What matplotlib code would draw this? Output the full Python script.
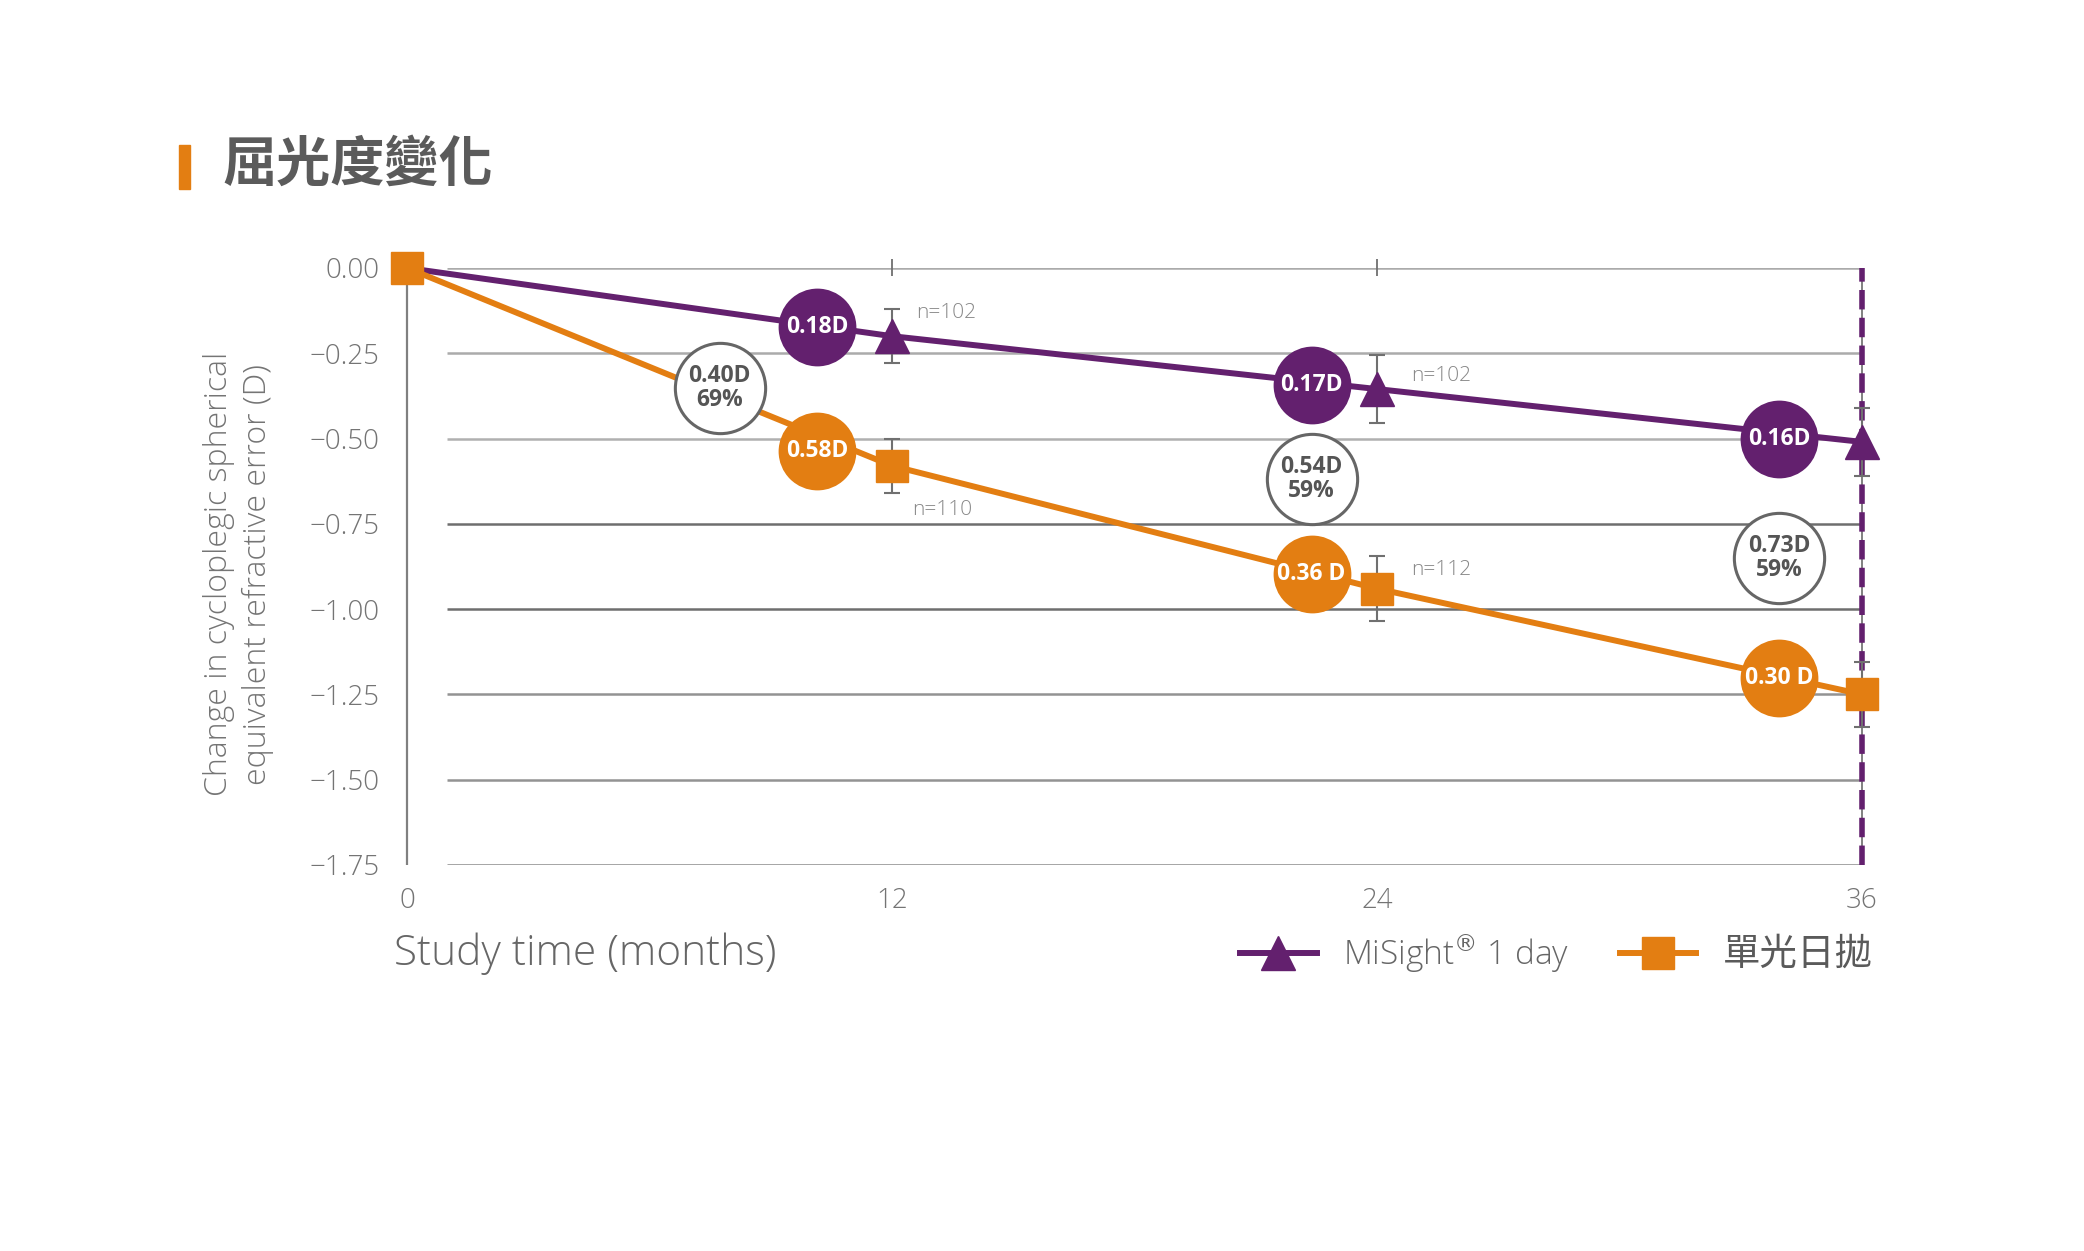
import matplotlib
matplotlib.use("Agg")
import matplotlib.pyplot as plt
from matplotlib.lines import Line2D
from matplotlib.patches import Rectangle

plt.rcParams['font.family'] = ['Open Sans', 'Noto Sans CJK TC', 'DejaVu Sans']

# ---------------- data ----------------
months = [0, 12, 24, 36]
misight = [0.0, -0.20, -0.355, -0.51]
misight_err = [0.0, 0.08, 0.10, 0.10]
single = [0.0, -0.58, -0.94, -1.25]
single_err = [0.0, 0.08, 0.095, 0.095]

n_labels = ["n=102", "n=110", "n=102", "n=112"]
n_x = [12.6, 12.5, 24.85, 24.85]
n_y = [-0.132, -0.71, -0.317, -0.886]

circle_x = [10.15, 22.38, 33.95]
misight_circle_y = [-0.173, -0.343, -0.50]
misight_circle_labels = ["0.18D", "0.17D", "0.16D"]
single_circle_y = [-0.536, -0.897, -1.203]
single_circle_labels = ["0.58D", "0.36 D", "0.30 D"]
diff_x = [7.74, 22.38, 33.95]
diff_y = [-0.352, -0.62, -0.85]
diff_labels = ["0.40D\n69%", "0.54D\n59%", "0.73D\n59%"]

yticks = [0.0, -0.25, -0.50, -0.75, -1.00, -1.25, -1.50, -1.75]
ytick_labels = ["0.00", "\u22120.25", "\u22120.50", "\u22120.75", "\u22121.00", "\u22121.25", "\u22121.50", "\u22121.75"]
grid_colors = ["#ababab", "#ababab", "#b0b0b0", "#6e6e6e", "#6e6e6e", "#939393", "#939393", "#8a8a8a"]
xticks = [0, 12, 24, 36]
xtick_labels = ["0", "12", "24", "36"]

title = "屈光度變化"
ylabel = "Change in cycloplegic spherical\nequivalent refractive error (D)"
xlabel = "Study time (months)"
legend_labels = ["MiSight$^{®}$ 1 day", "單光日拋"]

PURPLE = "#63206E"
ORANGE = "#E37E12"
GRAY_TXT = "#747474"

# ---------------- figure ----------------
fig = plt.figure(figsize=(20.84, 12.51), dpi=100)
ax = fig.add_axes([0.1953, 0.3086, 0.6982, 0.4772])
ax.set_xlim(0, 36)
ax.set_ylim(-1.75, 0)
for s in ax.spines.values():
    s.set_visible(False)

# gridlines
for yv, c in zip(yticks, grid_colors):
    ax.hlines(yv, 1, 36, colors=c, lw=1.8, zorder=1)
# left axis line
ax.vlines(0, -1.75, 0, colors="#808080", lw=1.6, zorder=1, clip_on=False)
# top ticks at 12, 24
ax.vlines([12, 24], -0.025, 0.025, colors="#707070", lw=1.3, zorder=1, clip_on=False)
# vertical line at 36
ax.vlines(36, -1.75, 0, colors="#808080", lw=1.4, zorder=1, clip_on=False)
ax.vlines(36, -1.75, 0, colors=PURPLE, lw=4, linestyles=(0, (3.5, 1.5)), zorder=2, clip_on=False)

# error bars
ax.errorbar(months[1:], misight[1:], yerr=misight_err[1:], fmt='none', ecolor="#707070",
            elinewidth=1.5, capsize=5.5, capthick=1.5, zorder=3, clip_on=False)
ax.errorbar(months[1:], single[1:], yerr=single_err[1:], fmt='none', ecolor="#707070",
            elinewidth=1.5, capsize=5.5, capthick=1.5, zorder=3, clip_on=False)

# lines
ax.plot(months, misight, color=PURPLE, lw=4.3, marker='^', ms=25, markevery=[1, 2, 3],
        zorder=4, clip_on=False)
ax.plot(months, single, color=ORANGE, lw=4.3, marker='s', ms=23.5, zorder=5, clip_on=False)

# filled circles
ax.scatter(circle_x, misight_circle_y, s=56**2, color=PURPLE, zorder=6, clip_on=False, linewidths=0)
ax.scatter(circle_x, single_circle_y, s=56**2, color=ORANGE, zorder=6, clip_on=False, linewidths=0)
for x, y, t in zip(circle_x, misight_circle_y, misight_circle_labels):
    ax.text(x, y, t, color="white", fontsize=16.5, fontweight="bold", ha="center", va="center", zorder=7)
for x, y, t in zip(circle_x, single_circle_y, single_circle_labels):
    ax.text(x, y, t, color="white", fontsize=16.5, fontweight="bold", ha="center", va="center", zorder=7)

# outline circles
ax.scatter(diff_x, diff_y, s=65**2, facecolor="white", edgecolor="#666666", linewidths=2.2,
           zorder=6, clip_on=False)
for x, y, t in zip(diff_x, diff_y, diff_labels):
    ax.text(x, y, t, color="#555555", fontsize=16.5, fontweight="bold", ha="center", va="center",
            linespacing=1.0, zorder=7)

# n labels
for x, y, t in zip(n_x, n_y, n_labels):
    ax.text(x, y, t, color="#888888", fontsize=15, fontweight="light", ha="left", va="center", zorder=7)

# ticks
ax.set_yticks(yticks, labels=ytick_labels)
ax.set_xticks(xticks, labels=xtick_labels)
ax.tick_params(axis='y', length=0, pad=20, labelsize=20, labelcolor=GRAY_TXT)
ax.tick_params(axis='x', length=0, pad=16, labelsize=20, labelcolor=GRAY_TXT)
for lbl in ax.get_yticklabels() + ax.get_xticklabels():
    lbl.set_fontweight('light')

ax.set_ylabel(ylabel, fontsize=23, color=GRAY_TXT, fontweight="light", linespacing=1.3,
              ha="center", va="center")
ax.yaxis.set_label_coords(-0.1157, 0.487)
ax.set_xlabel(xlabel, fontsize=30.5, color="#666666", fontweight="light", loc="left", va="center")
ax.xaxis.set_label_coords(-0.009, -0.148)

# legend
handles = [Line2D([], [], color=PURPLE, lw=4.3, marker='^', ms=25),
           Line2D([], [], color=ORANGE, lw=4.3, marker='s', ms=23.5)]
leg = fig.legend(handles, legend_labels, ncol=2, frameon=False, loc="center left",
                 bbox_to_anchor=(0.595, 0.238), borderpad=0, borderaxespad=0,
                 fontsize=24, handlelength=2.3, handletextpad=0.8, columnspacing=1.5)
for t in leg.get_texts():
    t.set_color("#666666")
    t.set_fontweight("light")
leg.get_texts()[1].set_fontsize(27)
leg.get_texts()[1].set_fontfamily(['Noto Sans CJK TC', 'DejaVu Sans'])
leg.get_texts()[1].set_fontweight("medium")
leg.get_texts()[1].set_color("#5a5a5a")

# title
fig.add_artist(Rectangle((179 / 2084, 1 - 189 / 1251), 11 / 2084, 44 / 1251,
                         transform=fig.transFigure, color=ORANGE))
fig.text(222 / 2084, 1 - 165 / 1251, title, fontsize=39, fontweight="bold",
         family=['Noto Sans CJK TC', 'DejaVu Sans'], color="#5b5b5b", va="center", ha="left")

fig.savefig("out.png", dpi=100)
